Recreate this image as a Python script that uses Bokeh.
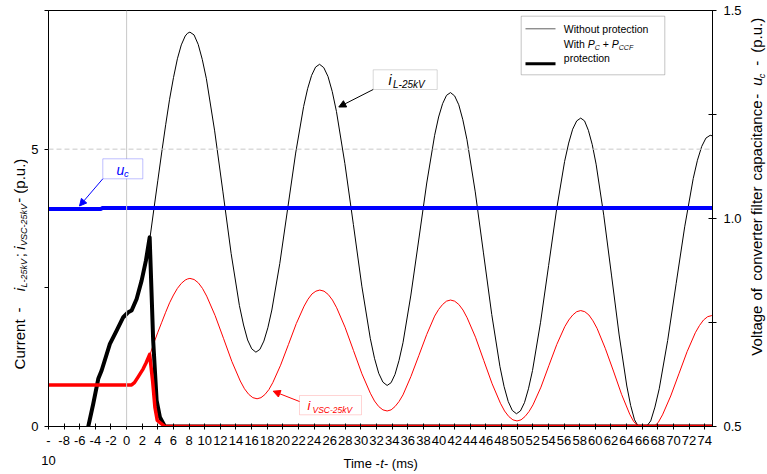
from bokeh.plotting import figure
from bokeh.layouts import row, column
from bokeh.models import (LinearAxis, Range1d, Span, BoxAnnotation, Label,
                          Arrow, NormalHead, FixedTicker)
from bokeh.embed import file_html
from bokeh.resources import INLINE

# ---------------- data ----------------
# i_L-25kV without protection (thin black)
t_L_plain = [3.0, 3.5, 4.0, 4.5, 5.0, 5.5, 6.0, 6.5, 7.0, 7.5, 7.8,
             8.1, 8.63, 9.16, 9.68, 10.21, 11.27, 12.33, 13.38, 14.44, 14.97, 15.49, 16.02,
             16.55, 17.06, 17.57, 18.08, 18.59, 19.61, 20.63, 21.64, 22.66, 23.17, 23.68, 24.19,
             24.7, 25.24, 25.78, 26.32, 26.86, 27.94, 29.03, 30.11, 31.19, 31.73, 32.27, 32.81,
             33.35, 33.86, 34.36, 34.87, 35.38, 36.39, 37.41, 38.42, 39.43, 39.94, 40.45, 40.95,
             41.46, 41.99, 42.52, 43.04, 43.57, 44.63, 45.68, 46.74, 47.79, 48.32, 48.85, 49.37,
             49.9, 50.41, 50.93, 51.44, 51.96, 52.99, 54.02, 55.04, 56.07, 56.59, 57.1, 57.62,
             58.13, 58.62, 59.11, 59.61, 60.1, 61.08, 62.07, 63.05, 64.03, 64.52, 65.02, 65.51,
             66.0, 66.54, 67.09, 67.63, 68.18, 69.26, 70.35, 71.44, 72.53, 73.07, 73.62, 74.16,
             74.7, 75.0]
i_L_plain = [3.41, 3.93, 4.44, 4.95, 5.44, 5.90, 6.29, 6.63, 6.88, 7.04, 7.09,
             7.11, 7.06, 6.89, 6.62, 6.27, 5.33, 4.23, 3.12, 2.18, 1.83, 1.56, 1.40,
             1.34, 1.39, 1.54, 1.78, 2.10, 2.94, 3.94, 4.93, 5.77, 6.09, 6.33, 6.48,
             6.53, 6.47, 6.31, 6.04, 5.68, 4.74, 3.64, 2.53, 1.59, 1.23, 0.96, 0.80,
             0.74, 0.79, 0.94, 1.19, 1.51, 2.37, 3.38, 4.39, 5.25, 5.58, 5.82, 5.97,
             6.02, 5.96, 5.80, 5.53, 5.17, 4.23, 3.13, 2.02, 1.08, 0.72, 0.45, 0.29,
             0.23, 0.28, 0.43, 0.68, 1.01, 1.88, 2.90, 3.91, 4.78, 5.11, 5.36, 5.51,
             5.56, 5.51, 5.34, 5.08, 4.73, 3.81, 2.73, 1.65, 0.73, 0.38, 0.12, 0.0,
             0.0, 0.0, 0.10, 0.35, 0.68, 1.55, 2.58, 3.60, 4.47, 4.80, 5.05, 5.20,
             5.25, 5.24]

# i_VSC-25kV without protection (thin red)
t_V_plain = [3.0, 3.5, 4.0, 4.5, 5.0, 5.5, 6.0, 6.5, 7.0, 7.5, 7.8,
             8.1, 8.64, 9.18, 9.71, 10.25, 11.33, 12.4, 13.48, 14.55, 15.09, 15.63, 16.16,
             16.7, 17.2, 17.7, 18.21, 18.71, 19.71, 20.72, 21.72, 22.72, 23.22, 23.73, 24.23,
             24.73, 25.27, 25.81, 26.35, 26.89, 27.96, 29.04, 30.12, 31.2, 31.73, 32.27, 32.81,
             33.35, 33.86, 34.36, 34.87, 35.38, 36.39, 37.41, 38.42, 39.43, 39.94, 40.45, 40.95,
             41.46, 41.99, 42.53, 43.06, 43.59, 44.66, 45.72, 46.79, 47.85, 48.38, 48.92, 49.45,
             49.98, 50.49, 51.0, 51.51, 52.02, 53.04, 54.06, 55.07, 56.09, 56.6, 57.11, 57.62,
             58.13, 58.65, 59.18, 59.7, 60.22, 61.27, 62.32, 63.36, 64.41, 64.93, 65.45,
             66.0, 66.5, 67.03, 67.55, 68.08, 68.6, 69.65, 70.7, 71.75, 72.8, 73.33, 73.85, 74.38,
             74.9, 75.0]
i_V_plain = [1.30, 1.51, 1.70, 1.88, 2.06, 2.23, 2.37, 2.49, 2.58, 2.64, 2.66,
             2.67, 2.65, 2.59, 2.49, 2.35, 2.00, 1.59, 1.17, 0.82, 0.68, 0.58, 0.52,
             0.50, 0.52, 0.575, 0.665, 0.79, 1.105, 1.48, 1.855, 2.17, 2.295, 2.39, 2.44,
             2.46, 2.44, 2.38, 2.28, 2.14, 1.79, 1.37, 0.95, 0.60, 0.46, 0.36, 0.30,
             0.28, 0.30, 0.36, 0.45, 0.57, 0.90, 1.28, 1.66, 1.99, 2.11, 2.20, 2.26,
             2.28, 2.26, 2.20, 2.10, 1.96, 1.61, 1.19, 0.77, 0.42, 0.28, 0.18, 0.12,
             0.10, 0.12, 0.18, 0.27, 0.39, 0.71, 1.10, 1.48, 1.80, 1.92, 2.01, 2.07,
             2.09, 2.07, 2.01, 1.905, 1.77, 1.41, 1.00, 0.58, 0.22, 0.085, 0.02,
             0.0, 0.0, 0.0, 0.0, 0.08, 0.21, 0.55, 0.95, 1.35, 1.69, 1.82, 1.92, 1.98,
             2.00, 2.00]

# i_L-25kV with Pc + Pccf protection (thick black)
t_L_prot = [-4.91, -4.27, -3.63, -3.2, -2.14, -1.28, -0.43, 0.2, 0.64,
            1.28, 1.92, 2.47, 2.95, 3.4, 3.84, 4.26, 4.9, 75.0]
i_L_prot = [0.0, 0.41, 0.86, 1.01, 1.49, 1.73, 1.97, 2.06, 2.09,
            2.30, 2.63, 2.99, 3.41, 1.55, 0.47, 0.17, 0.0, 0.0]

# i_VSC-25kV with Pc + Pccf protection (thick red)
t_V_prot = [-10.0, 0.64, 1.0, 1.5, 2.12, 2.5, 2.95, 3.32, 3.62, 3.92, 4.9, 75.0]
i_V_prot = [0.75, 0.75, 0.79, 0.90, 1.04, 1.15, 1.30, 0.83, 0.35, 0.11, 0.0, 0.0]

# u_c on the right axis (blue)
t_uc = [-10.0, -3.3, -3.1, 75.0]
u_c = [1.023, 1.023, 1.025, 1.025]

x_ticks = list(range(-10, 75, 2))
x_tick_labels = {-10: "-", -8: "-8", -6: "-6", -4: "-4", -2: "-2"}   # "-10" wraps
x_tick_wrap = "10"
yl_ticks = [0, 2.5, 5, 7.5]
yl_tick_labels = {0: "0", 2.5: "", 5: "5", 7.5: ""}
yr_ticks = [0.5, 0.75, 1.0, 1.25, 1.5]
yr_tick_labels = {0.5: "0.5", 0.75: "", 1.0: "1.0", 1.25: "", 1.5: "1.5"}

# ---------------- layout geometry (page pixels) ----------------
FONT = "Liberation Sans"
W, H = 767, 474
LW, RW = 28, 22                 # side strips holding the rotated axis titles
BH = 22                         # bottom strip holding the x-axis title
MW, MH = W - LW - RW, H - BH    # main figure size
X0, X1, Y0, Y1 = -10, 75, 0, 7.5
FL, FR, FT, FB = 48, 712, 10, 426      # frame edges in page pixels
MID = 0.35                             # baseline -> middle of the text box (in em)


def dx(px):
    return X0 + (px - FL) / (FR - FL) * (X1 - X0)


def dy(py):
    return Y0 + (FB - py) / (FB - FT) * (Y1 - Y0)


p = figure(width=MW, height=MH, x_range=Range1d(X0, X1), y_range=Range1d(Y0, Y1),
           output_backend="svg", toolbar_location=None,
           min_border_left=FL - LW, min_border_right=(LW + MW) - FR,
           min_border_top=FT, min_border_bottom=MH - FB)
p.background_fill_color = "white"
p.border_fill_color = "white"
p.outline_line_color = "#000000"
p.outline_line_width = 1
p.xgrid.visible = False
p.ygrid.visible = False

# axes
xa = p.xaxis[0]
xa.ticker = FixedTicker(ticks=x_ticks)
xa.major_label_overrides = x_tick_labels
xa.minor_tick_line_color = None
xa.major_tick_in = 3
xa.major_tick_out = 3
xa.major_label_standoff = 6
xa.major_label_text_font = FONT
xa.major_label_text_font_size = "13px"
xa.major_label_text_color = "black"
xa.axis_line_color = "black"
xa.major_tick_line_color = "black"

ya = p.yaxis[0]
ya.ticker = FixedTicker(ticks=yl_ticks)
ya.major_label_overrides = yl_tick_labels
ya.minor_tick_line_color = None
ya.major_tick_in = 0
ya.major_tick_out = 4
ya.major_label_standoff = 6
ya.major_label_text_font = FONT
ya.major_label_text_font_size = "13px"
ya.major_label_text_color = "black"
ya.axis_line_color = "black"
ya.major_tick_line_color = "black"

p.extra_y_ranges = {"uc": Range1d(0.5, 1.5)}
ra = LinearAxis(y_range_name="uc", ticker=FixedTicker(ticks=yr_ticks))
ra.major_label_overrides = yr_tick_labels
ra.minor_tick_line_color = None
ra.major_tick_in = 4
ra.major_tick_out = 4
ra.major_label_standoff = 7
ra.major_label_text_font = FONT
ra.major_label_text_font_size = "13px"
ra.major_label_text_color = "black"
ra.axis_line_color = "black"
ra.major_tick_line_color = "black"
p.add_layout(ra, "right")

# reference lines
p.add_layout(Span(location=5, dimension="width", line_color="#c8c8c8",
                  line_width=1, line_dash="5 3"))
p.add_layout(Span(location=0, dimension="height", line_color="#c8c8c8", line_width=1))

# series
p.line(t_L_plain, i_L_plain, line_color="black", line_width=1)
p.line(t_V_plain, i_V_plain, line_color="#ff0000", line_width=1)
p.line(t_L_prot, i_L_prot, line_color="black", line_width=4, line_join="round")
p.line(t_V_prot, i_V_prot, line_color="#ff0000", line_width=3.5, line_join="round")
p.line(t_uc, u_c, line_color="#0000ff", line_width=4, y_range_name="uc")


def lab(fig, x, y, text, size, color="black", style="normal", angle=0, align="left",
        to_data=False):
    """(x, y) is the baseline start in page-like pixels (y downward)."""
    if angle == 0:
        y = y - MID * size
    else:
        x = x - MID * size
    if to_data:
        x, y = dx(x), dy(y)
    fig.add_layout(Label(x=x, y=y, text=text, text_font=FONT,
                         text_font_size=f"{size}px", text_color=color,
                         text_font_style=style, angle=angle, angle_units="deg",
                         text_align=align, text_baseline="middle"))


def mlab(px, py, *a, **k):
    lab(p, px, py, *a, to_data=True, **k)


# ---- callout u_c ----
p.add_layout(BoxAnnotation(left=dx(102.3), right=dx(142.3), top=dy(158.3), bottom=dy(178.3),
                           fill_color="white", fill_alpha=1, line_color="#3030ff", line_width=1))
mlab(116, 174, "u", 14, "#0000ff", "italic")
mlab(123.5, 176.5, "c", 9.5, "#0000ff", "italic")
p.add_layout(Arrow(end=NormalHead(size=7, fill_color="#0000ff", line_color="#0000ff"),
                   x_start=dx(102.3), y_start=dy(178.3), x_end=dx(79), y_end=dy(205.5),
                   line_color="#0000ff", line_width=1))

# ---- callout i_L-25kV ----
p.add_layout(BoxAnnotation(left=dx(372.7), right=dx(436.7), top=dy(69.3), bottom=dy(89),
                           fill_color="white", fill_alpha=1, line_color="#808080", line_width=1))
mlab(388, 84.5, "i", 14, "black", "italic")
mlab(392.5, 87, "L-25kV", 10, "black", "italic")
p.add_layout(Arrow(end=NormalHead(size=7, fill_color="black", line_color="black"),
                   x_start=dx(372.7), y_start=dy(89), x_end=dx(338.3), y_end=dy(106.5),
                   line_color="black", line_width=1))

# ---- callout i_VSC-25kV ----
p.add_layout(BoxAnnotation(left=dx(299), right=dx(361), top=dy(395), bottom=dy(414.3),
                           fill_color="white", fill_alpha=1, line_color="#ff7070", line_width=1))
mlab(307, 410, "i", 13, "#ff0000", "italic")
mlab(312, 412.5, "VSC-25kV", 8.5, "#ff0000", "italic")
p.add_layout(Arrow(end=NormalHead(size=7, fill_color="#ff0000", line_color="#ff0000"),
                   x_start=dx(299), y_start=dy(401), x_end=dx(272.7), y_end=dy(390.7),
                   line_color="#ff0000", line_width=1))

# ---- legend ----
p.add_layout(BoxAnnotation(left=dx(520.7), right=dx(664.3), top=dy(15.7), bottom=dy(74.3),
                           fill_color="white", fill_alpha=1, line_color="#404040", line_width=1))
p.add_layout(Arrow(end=None, x_start=dx(525), y_start=dy(28.3), x_end=dx(555), y_end=dy(28.3),
                   line_color="#606060", line_width=1))
p.add_layout(Arrow(end=None, x_start=dx(525), y_start=dy(63.3), x_end=dx(555), y_end=dy(63.3),
                   line_color="black", line_width=3))
mlab(563.3, 32, "Without protection", 10.5)
mlab(563.3, 47, "With", 10.5)
mlab(587.2, 47, "P", 10.5, style="italic")
mlab(594.2, 49.5, "C", 7, style="italic")
mlab(602.3, 47, "+", 10.5)
mlab(611.3, 47, "P", 10.5, style="italic")
mlab(618.3, 49.5, "CCF", 7, style="italic")
mlab(563.3, 61.5, "protection", 10.5)


# ---------------- side strips (their frames fill them; 1 data unit = 1 px) ----------------
def strip(w, h):
    f = figure(width=w, height=h, x_range=Range1d(0, w), y_range=Range1d(h, 0),
               output_backend="svg", toolbar_location=None,
               x_axis_type=None, y_axis_type=None, min_border=0)
    f.outline_line_color = None
    f.background_fill_color = "white"
    f.border_fill_color = "white"
    return f


left = strip(LW, MH)
LB, LS = 24.0, 27.0
lab(left, LB, 390, "Current", 15, angle=90)
lab(left, LB, 328, "-", 15, angle=90)
lab(left, LB, 305, "i", 15, style="italic", angle=90)
lab(left, LS, 301, "L-25kV", 9, style="italic", angle=90)
lab(left, LB, 268, ";", 15, angle=90)
lab(left, LB, 260, "i", 15, style="italic", angle=90)
lab(left, LS, 256, "VSC-25kV", 9, style="italic", angle=90)
lab(left, LB, 209, "-", 15, angle=90)
lab(left, LB, 199, "(p.u.)", 15, angle=90)

right = strip(RW, MH)
RB, RS = 761.5 - (LW + MW), 764.5 - (LW + MW)
lab(right, RB, 375, "Voltage", 15, angle=90)
lab(right, RB, 315.1, "of", 15, angle=90)
lab(right, RB, 293.6, "converter", 15, angle=90)
lab(right, RB, 222.1, "filter", 15, angle=90)
lab(right, RB, 184.8, "capacitance", 15, angle=90)
lab(right, RB, 95.8, "-", 15, angle=90)
lab(right, RB, 81.8, "u", 15, style="italic", angle=90)
lab(right, RS, 73.5, "c", 9, style="italic", angle=90)
lab(right, RB, 60, "-", 15, angle=90)
lab(right, RB, 46, "(p.u.)", 15, angle=90)

bottom = strip(W, BH)
lab(bottom, 48, 465 - MH, x_tick_wrap, 13, align="center")
lab(bottom, 343, 468 - MH, "Time -", 13)
lab(bottom, 379.8, 468 - MH, "t", 13, style="italic")
lab(bottom, 383.4, 468 - MH, "- (ms)", 13)

layout = column(row(left, p, right, spacing=0), bottom, spacing=0)
open("out.html", "w").write(file_html(layout, INLINE))
